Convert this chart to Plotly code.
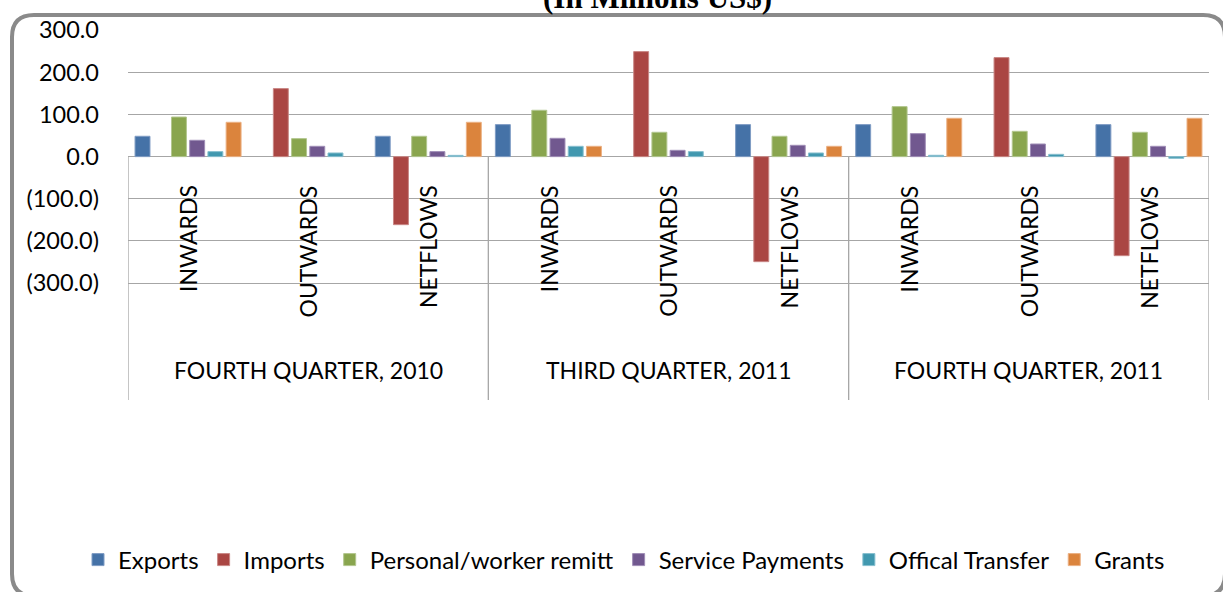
import plotly.graph_objects as go

quarters = ["FOURTH QUARTER, 2010", "THIRD QUARTER, 2011", "FOURTH QUARTER, 2011"]
flows = ["INWARDS", "OUTWARDS", "NETFLOWS"]
series_names = ["Exports", "Imports", "Personal/worker remitt", "Service Payments", "Offical Transfer", "Grants"]

exports = [48.3, None, 48.3, 76.0, None, 76.0, 76.0, None, 76.0]
imports = [None, 161.4, -161.4, None, 249.2, -249.2, None, 235.0, -235.0]
personal = [94.0, 42.7, 48.3, 110.0, 57.8, 48.3, 118.7, 60.1, 57.8]
service = [38.8, 24.5, 11.9, 43.5, 15.0, 26.9, 54.6, 30.0, 24.5]
official = [11.9, 8.7, 3.0, 24.5, 11.9, 8.7, 3.2, 5.5, -4.0]
grants = [81.5, None, 81.5, 24.5, None, 24.5, 91.0, None, 91.0]

tick_vals = [300, 200, 100, 0, -100, -200, -300]
tick_text = ["300.0", "200.0", "100.0", "0.0", "(100.0)", "(200.0)", "(300.0)"]

colors = ["#4572A7", "#AA4643", "#89A54E", "#71588F", "#4198AF", "#DB843D"]
edge = ["#7F9CC4", "#C98785", "#B2C68E", "#9F8DB6", "#86BFCF", "#EBB083"]

cats = [q + " | " + f for q in quarters for f in flows]
all_series = [exports, imports, personal, service, official, grants]

FONT = "Lato, Carlito, Calibri, sans-serif"

fig = go.Figure()
for name, vals, c, e in zip(series_names, all_series, colors, edge):
    fig.add_trace(go.Bar(x=cats, y=vals, name=name,
                         marker=dict(color=c, line=dict(color=e, width=1))))

# layout geometry (pixels)
L, R, T, B = 128, 1209, 30, 400
W, H = 1223, 592
PW, PH = R - L, B - T
def px(x):
    return (x - L) / PW
def py(y):
    return (B - y) / PH

ymin = -300 - (B - 283) / (253 / 600)

shapes = []
# group separators
for xb in [-0.5, 2.5, 5.5, 8.5]:
    shapes.append(dict(type="line", xref="x", yref="y", x0=xb, x1=xb, y0=0, y1=ymin,
                       line=dict(color="#A6A6A6", width=1.3)))
# rounded frame
fl, ft, fr, fb, rr = 12, 15, 1225, 596, 22
path = (f"M {px(fl)},{py(ft+rr)} Q {px(fl)},{py(ft)} {px(fl+rr)},{py(ft)} "
        f"L {px(fr-rr)},{py(ft)} Q {px(fr)},{py(ft)} {px(fr)},{py(ft+rr)} "
        f"L {px(fr)},{py(fb-rr)} Q {px(fr)},{py(fb)} {px(fr-rr)},{py(fb)} "
        f"L {px(fl+rr)},{py(fb)} Q {px(fl)},{py(fb)} {px(fl)},{py(fb-rr)} Z")
shapes.append(dict(type="path", xref="paper", yref="paper", path=path,
                   line=dict(color="#8A8A8A", width=4)))

annotations = []
lab_y = -(183 - 156.3) / (253 / 600)
for i, c in enumerate(cats):
    annotations.append(dict(x=c, y=lab_y, xref="x", yref="y", text=flows[i % 3],
                            textangle=-90, showarrow=False, yanchor="top", xanchor="center",
                            font=dict(family=FONT, size=23, color="#000000")))
grp_y = -(370 - 156.3) / (253 / 600)
for gi, q in enumerate(quarters):
    annotations.append(dict(x=cats[gi * 3 + 1], y=grp_y, xref="x", yref="y", text=q,
                            showarrow=False, yanchor="middle", xanchor="center",
                            font=dict(family=FONT, size=23, color="#000000")))
annotations.append(dict(x=px(657), y=py(17), xref="paper", yref="paper",
                        text="<b>(In Millions US$)</b>", showarrow=False,
                        xanchor="center", yanchor="bottom",
                        font=dict(family="Liberation Serif, Times New Roman, serif", size=31, color="#000000")))

fig.update_layout(
    width=W, height=H,
    margin=dict(l=L, r=W - R, t=T, b=H - B, pad=0, autoexpand=False),
    paper_bgcolor="white", plot_bgcolor="white",
    barmode="group", bargap=0.09, bargroupgap=0.18,
    showlegend=True,
    legend=dict(orientation="h", x=px(78), y=py(560), xanchor="left", yanchor="middle",
                font=dict(family=FONT, size=24, color="#000000"), itemwidth=30,
                traceorder="normal", bgcolor="rgba(0,0,0,0)"),
    shapes=shapes, annotations=annotations,
    font=dict(family=FONT, color="#000000"),
)
fig.update_xaxes(type="category", range=[-0.5, 8.5], showticklabels=False, showgrid=False,
                 zeroline=False, showline=False, ticks="")
fig.update_yaxes(range=[ymin, 300.5], tickvals=tick_vals, ticktext=tick_text,
                 showgrid=True, gridcolor="#A6A6A6", gridwidth=1,
                 zeroline=True, zerolinecolor="#A6A6A6", zerolinewidth=1.3,
                 showline=False, ticks="", ticklabelstandoff=28,
                 tickfont=dict(family=FONT, size=23.5, color="#000000"))

fig.write_html("out.html", config={"displayModeBar": False},
               post_script="document.body.style.margin='0';document.body.style.padding='0';")
